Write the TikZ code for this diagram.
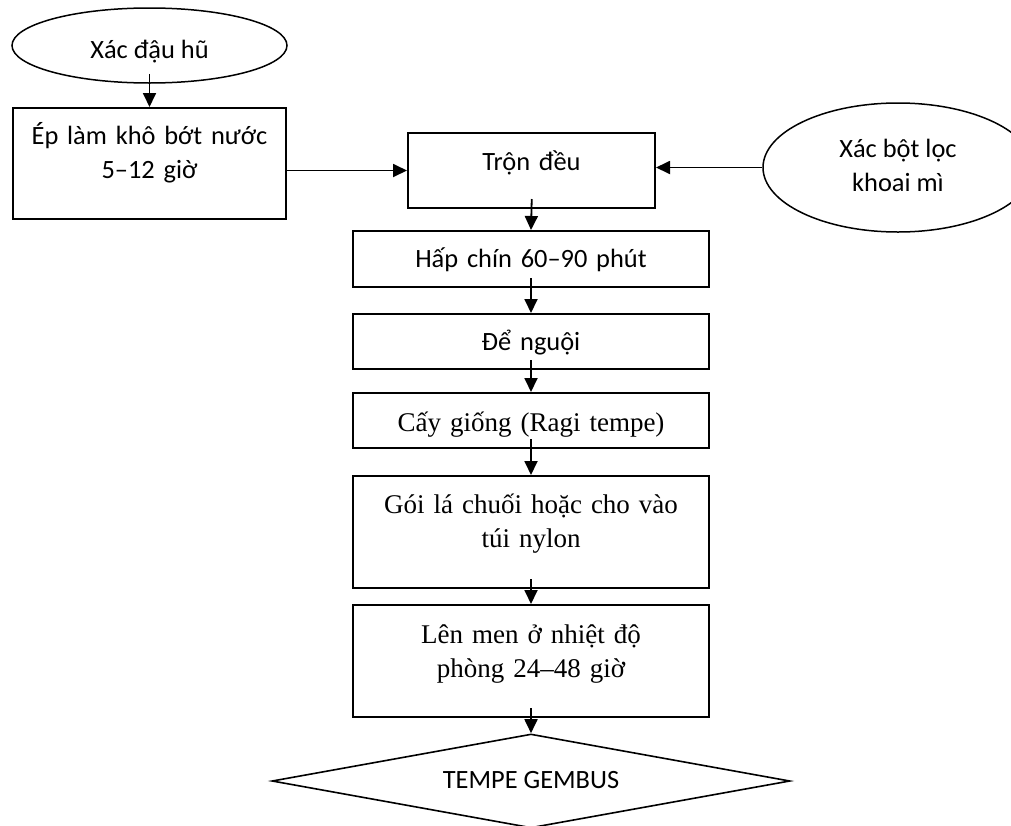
\documentclass[tikz,border=0pt]{standalone}
\usepackage{fontspec}
\setmainfont{Carlito}
\newfontfamily\serifvn{Liberation Serif}
\usetikzlibrary{shapes.geometric,arrows.meta}
\begin{document}
\begin{tikzpicture}[x=1pt,y=-1pt,
  sansfont/.style={font=\fontsize{26.4}{34}\selectfont},
  seriffont/.style={font=\serifvn\fontsize{27}{34}\selectfont},
  stepbox/.style={draw, rectangle, line width=2pt, inner xsep=0pt, inner ysep=0pt,
    align=center, anchor=north},
  source/.style={draw, ellipse, line width=1.5pt, inner sep=0pt, align=center, sansfont},
  product/.style={draw, diamond, line width=1.6pt, inner sep=0pt, aspect=5.5, sansfont},
  conn/.style={line width=1.8pt, -{Triangle[length=14pt,width=13pt]}},
  down/.style={conn, shorten <=-10pt}]
\clip (0,0) rectangle (1011,825);

% raw materials
\node[source, minimum width=275pt, minimum height=75pt, text height=25pt, text depth=0pt]
  (tofu) at (149.5,45.5) {Xác đậu hũ};
\node[source, minimum width=270pt, minimum height=129pt, text height=47pt, text depth=0pt]
  (cassava) at (898,167.5) {Xác bột lọc\\khoai mì};

% process steps
\node[stepbox, sansfont, text width=273pt, text height=36pt, text depth=75pt]
  (press) at (149.5,107) {Ép làm khô bớt nước\\5–12 giờ};
\node[stepbox, sansfont, text width=247pt, text height=37pt, text depth=38pt]
  (mix) at (531.5,132) {Trộn đều};
\node[stepbox, sansfont, text width=356pt, text height=36pt, text depth=20pt]
  (steam) at (531,230) {Hấp chín 60–90 phút};
\node[stepbox, sansfont, text width=356pt, text height=36pt, text depth=19pt]
  (cool) at (531,313) {Để nguội};
\node[stepbox, seriffont, text width=356pt, text height=38pt, text depth=17pt]
  (inoc) at (531,392) {Cấy giống (Ragi tempe)};
\node[stepbox, seriffont, text width=356pt, text height=37pt, text depth=75pt]
  (wrap) at (531,475) {Gói lá chuối hoặc cho vào\\túi nylon};
\node[stepbox, seriffont, text width=356pt, text height=38pt, text depth=74pt]
  (ferment) at (531,604) {Lên men ở nhiệt độ\\phòng 24–48 giờ};

% final product
\node[product, minimum width=518pt, minimum height=94pt, text height=14pt, text depth=0pt]
  (tempe) at (531,781) {TEMPE GEMBUS};

% connectors
\draw[down] (tofu.south) -- (press.north);
\draw[conn] (press.east |- mix.west) -- (mix.west);
\draw[conn] (cassava.west) -- (mix.east |- cassava.west);
\draw[down] (mix.south) -- (steam.north);
\draw[down] (steam.south) -- (cool.north);
\draw[down] (cool.south) -- (inoc.north);
\draw[down] (inoc.south) -- (wrap.north);
\draw[down] (wrap.south) -- (ferment.north);
\draw[down] (ferment.south) -- (tempe.north);
\end{tikzpicture}
\end{document}
